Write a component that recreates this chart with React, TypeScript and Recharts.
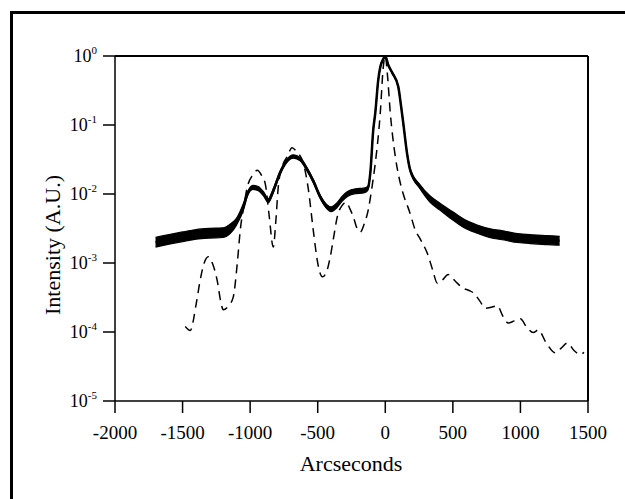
import React from 'react';
import { ComposedChart, Line, Area, XAxis, YAxis, ReferenceLine } from 'recharts';

// Measured (solid) curve: arcseconds and intensity
const solidX = [-1700, -1650, -1600, -1500, -1400, -1300, -1200, -1150, -1100, -1050, -1020, -980, -940, -900, -866, -830, -780, -730, -680, -630, -580, -530, -480, -430, -400, -360, -320, -280, -220, -160, -130, -111, -89, -74, -52, -37, -15, 0, 22, 52, 96, 115, 133, 160, 185, 259, 330, 407, 500, 577, 680, 777, 880, 977, 1100, 1200, 1290];
const solidY = [2.0e-3, 2.1e-3, 2.2e-3, 2.4e-3, 2.6e-3, 2.7e-3, 2.75e-3, 3.1e-3, 4.0e-3, 6.5e-3, 1.0e-2, 1.25e-2, 1.2e-2, 1.0e-2, 8.0e-3, 1.1e-2, 2.0e-2, 3.0e-2, 3.5e-2, 3.2e-2, 2.3e-2, 1.5e-2, 9.0e-3, 6.5e-3, 6.0e-3, 6.8e-3, 8.5e-3, 1.0e-2, 1.1e-2, 1.12e-2, 1.2e-2, 2.0e-2, 8.5e-2, 0.15, 0.45, 0.69, 0.9, 1.0, 0.74, 0.57, 0.36, 0.2, 0.107, 0.04, 0.022, 0.0126, 8.5e-3, 6.5e-3, 4.8e-3, 3.8e-3, 3.1e-3, 2.7e-3, 2.5e-3, 2.3e-3, 2.2e-3, 2.15e-3, 2.1e-3];
// Half-width of the noise band around the measured curve, in decades
const solidSpread = [0.07, 0.07, 0.07, 0.07, 0.07, 0.07, 0.07, 0.07, 0.05, 0.05, 0.03, 0.03, 0.03, 0.03, 0.03, 0.03, 0.025, 0.025, 0.025, 0.025, 0.025, 0.025, 0.025, 0.03, 0.035, 0.035, 0.035, 0.035, 0.035, 0.035, 0.03, 0.015, 0.01, 0.01, 0.01, 0.01, 0.01, 0.01, 0.01, 0.01, 0.01, 0.01, 0.01, 0.015, 0.02, 0.03, 0.045, 0.05, 0.06, 0.06, 0.06, 0.065, 0.065, 0.065, 0.065, 0.065, 0.065];

// Theoretical (dashed) curve
const dashedX = [-1480, -1443, -1400, -1370, -1340, -1310, -1280, -1244, -1215, -1199, -1160, -1125, -1095, -1073, -1045, -1021, -980, -947, -918, -888, -860, -829, -810, -792, -760, -725, -690, -660, -607, -570, -533, -500, -466, -440, -407, -380, -355, -320, -290, -260, -237, -210, -185, -160, -126, -100, -74, -37, -15, 0, 15, 37, 74, 100, 133, 180, 222, 260, 311, 350, 385, 420, 466, 520, 577, 620, 651, 700, 740, 790, 829, 870, 910, 955, 999, 1050, 1095, 1132, 1190, 1258, 1300, 1347, 1400, 1443, 1470];
const dashedY = [1.2e-4, 1.05e-4, 2.5e-4, 5.6e-4, 1.0e-3, 1.23e-3, 1.0e-3, 5.6e-4, 2.6e-4, 2.1e-4, 2.4e-4, 3.2e-4, 1.0e-3, 3.0e-3, 7.0e-3, 1.26e-2, 1.9e-2, 2.2e-2, 1.9e-2, 1.4e-2, 5.0e-3, 1.7e-3, 4.0e-3, 1.26e-2, 2.6e-2, 3.5e-2, 4.7e-2, 4.2e-2, 2.8e-2, 1.2e-2, 3.0e-3, 1.0e-3, 6.3e-4, 7.0e-4, 1.23e-3, 2.5e-3, 4.7e-3, 6.8e-3, 7.6e-3, 6.0e-3, 4.7e-3, 3.2e-3, 2.8e-3, 3.5e-3, 5.9e-3, 1.2e-2, 2.8e-2, 0.15, 0.69, 1.0, 0.56, 0.15, 0.035, 0.018, 0.010, 5.5e-3, 3.0e-3, 2.2e-3, 1.38e-3, 8.0e-4, 5.1e-4, 5.6e-4, 6.8e-4, 5.4e-4, 4.3e-4, 4.0e-4, 3.7e-4, 2.8e-4, 2.2e-4, 2.3e-4, 2.4e-4, 1.7e-4, 1.35e-4, 1.45e-4, 1.55e-4, 1.15e-4, 9.8e-5, 1.07e-4, 7.0e-5, 5.0e-5, 5.8e-5, 6.9e-5, 5.3e-5, 4.7e-5, 5.1e-5];

const xTicks = [-2000, -1500, -1000, -500, 0, 500, 1000, 1500];
const yTicks = [1e-5, 1e-4, 1e-3, 1e-2, 1e-1, 1];

const xTitle = 'Arcseconds';
const yTitle = 'Intensity (A.U.)';

const solidData = solidX.map((x, i) => ({
  x,
  y: solidY[i],
  band: [solidY[i] / Math.pow(10, solidSpread[i]), solidY[i] * Math.pow(10, solidSpread[i])],
}));
const dashedData = dashedX.map((x, i) => ({ x, y: dashedY[i] }));

const FONT = '"Liberation Serif", "Times New Roman", serif';

const YTick = (props: any) => {
  const { x, y, payload } = props;
  const e = Math.round(Math.log10(payload.value));
  return (
    <text x={x} y={y} textAnchor="end" fontFamily={FONT} fill="#000">
      <tspan fontSize={18} dy={6}>10</tspan>
      <tspan fontSize={11} dy={-8}>{String(e)}</tspan>
    </text>
  );
};

export default function App() {
  return (
    <div style={{ position: 'fixed', left: 0, top: 0, width: 625, height: 499, overflow: 'hidden', background: '#fff' }}>
      <div
        style={{
          position: 'absolute',
          left: 10,
          top: 11,
          width: 800,
          height: 800,
          borderLeft: '3px solid #000',
          borderTop: '3px solid #000',
        }}
      />
      <div style={{ position: 'absolute', left: 0, top: 0 }}>
        <ComposedChart width={625} height={499} margin={{ top: 56, right: 37, bottom: 38, left: 0 }}>
          <XAxis
            type="number"
            dataKey="x"
            domain={[-2000, 1500]}
            ticks={xTicks}
            allowDataOverflow
            height={60}
            tickSize={12}
            tickMargin={13}
            stroke="#000"
            strokeWidth={1.5}
            tick={{ fill: '#000', fontSize: 19, fontFamily: FONT }}
          />
          <YAxis
            type="number"
            scale="log"
            domain={[1e-5, 1]}
            ticks={yTicks}
            allowDataOverflow
            width={115}
            tickSize={12}
            tickMargin={6}
            stroke="#000"
            strokeWidth={1.5}
            tick={<YTick />}
          />
          <ReferenceLine y={1} stroke="#000" strokeWidth={2} />
          <ReferenceLine x={1500} stroke="#000" strokeWidth={2} />
          <Line
            data={dashedData}
            dataKey="y"
            type="monotone"
            stroke="#000"
            strokeWidth={1.5}
            strokeDasharray="9 6"
            dot={false}
            activeDot={false}
            isAnimationActive={false}
          />
          <Area
            data={solidData}
            dataKey="band"
            type="monotone"
            stroke="#000"
            strokeWidth={1.2}
            fill="#000"
            fillOpacity={1}
            dot={false}
            activeDot={false}
            isAnimationActive={false}
          />
          <Line
            data={solidData}
            dataKey="y"
            type="monotone"
            stroke="#000"
            strokeWidth={2.5}
            dot={false}
            activeDot={false}
            isAnimationActive={false}
          />
        </ComposedChart>
      </div>
      <svg width={625} height={499} style={{ position: 'absolute', left: 0, top: 0, pointerEvents: 'none' }}>
        <text x={351} y={463} textAnchor="middle" dominantBaseline="central" fontFamily={FONT} fontSize={22} fill="#000">
          {xTitle}
        </text>
        <text
          x={52}
          y={245}
          textAnchor="middle"
          dominantBaseline="central"
          fontFamily={FONT}
          fontSize={22}
          fill="#000"
          transform="rotate(-90 52 245)"
        >
          {yTitle}
        </text>
      </svg>
    </div>
  );
}
